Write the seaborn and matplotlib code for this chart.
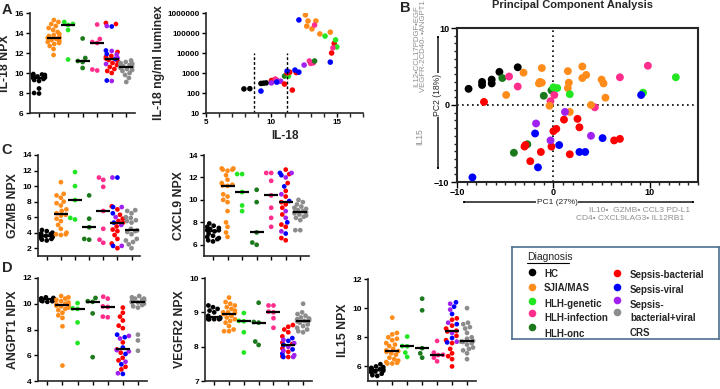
import warnings
import numpy as np
import pandas as pd
import matplotlib
matplotlib.use("Agg")
import matplotlib.pyplot as plt
from matplotlib.ticker import FixedLocator, MultipleLocator, NullLocator, FuncFormatter
import seaborn as sns

warnings.filterwarnings("ignore")

# groups / colours
GROUPS = ["HC", "SJIA/MAS", "HLH-genetic", "HLH-infection", "HLH-onc",
          "Sepsis-bacterial", "Sepsis-viral", "Sepsis-bacterial+viral", "CRS"]
COLORS = ["#000000", "#FF8C1A", "#22E622", "#FF2E8C", "#1C7A1C",
          "#FF0000", "#0000FF", "#A020F0", "#8C8C8C"]
PALETTE = dict(zip(GROUPS, COLORS))
X_CATS = ["HC", "SJIA/MAS", "HLH-genetic", "HLH-onc", "HLH-infection", "Sepsis", "CRS"]
CAT_OF = {g: ("Sepsis" if g.startswith("Sepsis") else g) for g in GROUPS}

# A: IL-18 NPX
il18_npx = {
    "HC": [9.9, 9.85, 9.8, 9.75, 9.7, 9.65, 9.6, 9.55, 9.5, 9.4, 9.3, 9.2, 8.45, 8.0, 7.95],
    "SJIA/MAS": [15.3, 15.1, 14.9, 14.7, 14.5, 14.3, 14.1, 13.9, 13.8, 13.7, 13.6, 13.5, 13.5,
                 13.4, 13.3, 13.2, 13.1, 13.0, 12.9, 12.7, 12.4, 11.8],
    "HLH-genetic": [15.1, 14.9, 14.8, 14.3, 11.35],
    "HLH-onc": [13.45, 11.5, 11.2, 11.1, 10.5],
    "HLH-infection": [14.85, 13.4, 13.1, 13.0, 10.35, 10.25],
    "Sepsis-bacterial": [15.0, 14.9, 12.1, 11.7, 11.6, 11.45, 11.3, 11.2, 11.0, 10.8, 10.6, 10.4, 10.2, 10.0],
    "Sepsis-viral": [14.65, 12.25, 11.9, 11.4, 9.25],
    "Sepsis-bacterial+viral": [14.7, 12.2, 11.85, 11.5, 10.9, 9.2],
    "CRS": [11.25, 11.1, 11.0, 10.95, 10.9, 10.85, 10.8, 10.7, 10.65, 10.6, 10.5, 10.4, 10.3,
            10.2, 10.0, 9.8, 9.5, 9.1],
}

# A: IL-18 NPX vs luminex
lum_group = (["HC"] * 5 + ["Sepsis-viral"] + ["Sepsis-bacterial"] * 3 + ["HLH-infection"]
             + ["Sepsis-bacterial+viral"] * 3 + ["Sepsis-viral", "HLH-onc", "HLH-genetic"]
             + ["Sepsis-bacterial"] * 5 + ["Sepsis-viral"] * 3 + ["Sepsis-bacterial+viral"]
             + ["HLH-infection"] * 3 + ["HLH-onc", "Sepsis-viral"] + ["Sepsis-bacterial"] * 2
             + ["HLH-genetic"] * 2 + ["HLH-infection"] + ["SJIA/MAS"] * 2 + ["HLH-genetic"]
             + ["SJIA/MAS"] * 5 + ["HLH-infection", "Sepsis-viral"])
lum_npx = [7.9, 8.35, 9.2, 9.4, 9.6, 9.2, 10.0, 10.2, 10.4, 10.3,
           10.0, 10.5, 10.7, 10.4, 11.0, 11.3,
           11.0, 11.6, 11.2, 11.4, 11.9, 11.2, 11.8, 12.1, 12.5,
           12.9, 13.0, 13.2, 13.3, 14.5, 14.6, 14.8,
           14.9, 15.0, 14.7, 13.7, 14.5, 14.1,
           12.6, 12.8, 13.4, 12.7, 13.1, 13.3, 12.1]
lum_ngml = [160, 165, 300, 310, 320, 125, 420, 450, 430, 500,
            320, 370, 390, 350, 700, 700,
            280, 140, 1000, 1100, 1050, 1250, 1400, 1100, 2500,
            4000, 3000, 3200, 4000, 3500, 10000, 30000,
            45000, 20000, 18000, 90000, 110000, 70000,
            800000, 400000, 400000, 220000, 160000, 250000, 450000]
cutoffs = [8.7, 11.2]

# B: PCA
pca_group = (["HC"] * 7 + ["HLH-onc"] * 5 + ["HLH-infection"] * 7 + ["SJIA/MAS"] * 18
             + ["HLH-genetic"] * 5 + ["Sepsis-bacterial"] * 14 + ["Sepsis-viral"] * 8
             + ["Sepsis-bacterial+viral"] * 4)
pc1 = [-8.8, -7.4, -7.4, -6.4, -6.4, -5.6, -3.7,
       -5.3, -4.1, -2.7, -0.2, -1.0,
       -4.6, -3.7, 0.1, -0.3, 4.3, 6.9, 9.8,
       -4.9, -3.1, -1.2, -1.4, -1.5, -1.2, -0.4, 1.5, 1.6, 1.5, 3.0, 3.4, 3.0, 5.0, 5.2, 5.4, 3.9, 1.7,
       0.0, 0.4, 1.7, 9.3, 12.7,
       -7.2, -3.0, -2.9, -2.4, -1.3, -0.2, 0.0, 0.3, 1.1, 1.7, 2.5, 2.7, 6.3, 6.9,
       -8.4, -1.9, -1.6, 0.6, 2.7, 3.3, 5.1, 9.1,
       -1.8, -0.3, 1.2, 3.9]
pc2 = [2.1, 3.0, 2.6, 3.3, 2.8, 4.3, 4.9,
       3.5, -6.2, -5.1, 1.9, 1.2,
       3.7, 2.4, 1.3, 0.5, -0.3, 3.6, 5.1,
       1.3, 4.2, 4.8, 3.0, 2.8, 2.9, -0.1, 4.4, 2.9, 2.2, 5.0, 3.9, 3.5, 3.3, 2.8, 0.95, 0.0, -0.9,
       2.3, 2.2, 1.4, 1.6, 3.6,
       0.4, -5.4, -5.2, -7.3, -6.1, -5.4, -3.4, -3.1, -1.9, -6.4, -1.8, -2.9, -4.6, -4.4,
       -9.4, -3.7, -8.1, -5.2, -6.1, -6.1, -4.3, 1.3,
       -2.4, -4.6, -0.9, -4.0]

# C: GZMB, CXCL9
gzmb_npx = {
    "HC": [4.35, 4.2, 4.0, 3.9, 3.8, 3.7, 3.65, 3.6, 3.55, 3.5, 3.4, 3.3, 3.2, 3.1, 3.0],
    "SJIA/MAS": [10.5, 9.0, 8.8, 8.5, 8.0, 7.8, 7.5, 7.0, 6.8, 6.5, 6.3, 6.2, 5.8, 5.5, 5.0,
                 4.5, 4.0, 3.8, 3.8, 3.7],
    "HLH-genetic": [11.8, 10.0, 8.2, 5.9, 5.7],
    "HLH-onc": [8.8, 5.8, 4.7, 3.2, 3.1],
    "HLH-infection": [11.1, 10.8, 9.9, 6.8, 4.5, 3.1, 2.7],
    "Sepsis-bacterial": [7.4, 7.0, 6.3, 5.8, 5.5, 5.3, 4.8, 4.4, 4.2, 3.7, 3.2, 2.6, 2.0],
    "Sepsis-viral": [11.1, 7.3, 6.5, 5.3, 2.3],
    "Sepsis-bacterial+viral": [11.1, 7.3, 6.0, 5.0, 2.3],
    "CRS": [6.9, 6.8, 6.5, 6.0, 5.9, 5.6, 5.5, 5.3, 4.5, 4.3, 4.2, 4.1, 3.8, 3.2, 3.0, 2.8, 2.5, 2.0],
}
cxcl9_npx = {
    "HC": [7.9, 7.7, 7.6, 7.5, 7.4, 7.3, 7.3, 7.2, 7.0, 6.8, 6.7, 6.6, 6.5, 6.4, 6.3],
    "SJIA/MAS": [12.8, 12.8, 12.7, 12.7, 12.6, 12.2, 11.8, 11.5, 11.35, 11.3, 11.25, 10.5, 10.3,
                 10.0, 9.8, 9.0, 8.0, 7.6, 7.1, 6.7],
    "HLH-genetic": [12.3, 12.3, 10.7, 9.5, 9.0],
    "HLH-onc": [10.9, 9.8, 7.1, 6.2, 6.0],
    "HLH-infection": [12.4, 12.4, 11.7, 10.4, 9.3, 8.4, 7.6],
    "Sepsis-bacterial": [12.7, 12.3, 11.5, 10.8, 10.3, 9.8, 9.6, 9.3, 8.7, 7.8, 7.6, 6.6, 6.4],
    "Sepsis-viral": [12.4, 12.2, 11.2, 9.9, 8.0, 7.0],
    "Sepsis-bacterial+viral": [12.4, 12.0, 10.5, 9.0, 8.4, 7.2],
    "CRS": [10.0, 9.8, 9.6, 9.4, 9.3, 9.2, 9.1, 9.0, 8.9, 8.9, 8.8, 8.7, 8.6, 8.5, 8.4, 8.2, 7.3, 7.3],
}

# D: ANGPT1, VEGFR2, IL15
angpt1_npx = {
    "HC": [10.5, 10.45, 10.4, 10.4, 10.4, 10.35, 10.35, 10.35, 10.3, 10.3, 10.3, 10.25, 10.2, 10.2, 10.15],
    "SJIA/MAS": [10.6, 10.5, 10.4, 10.3, 10.2, 10.1, 10.0, 9.95, 9.9, 9.9, 9.85, 9.8, 9.7, 9.6,
                 9.5, 9.3, 9.1, 8.9, 8.25, 5.2],
    "HLH-genetic": [10.05, 9.65, 9.6, 8.55, 6.95],
    "HLH-onc": [10.45, 10.2, 10.15, 9.25, 5.85],
    "HLH-infection": [10.55, 10.4, 9.8, 9.75, 9.0, 8.95],
    "Sepsis-bacterial": [9.7, 9.3, 9.0, 8.7, 8.3, 8.1, 7.0, 6.45, 6.2, 5.8, 5.6, 5.1, 4.9],
    "Sepsis-viral": [7.6, 7.4, 6.6, 6.1, 5.3, 4.55],
    "Sepsis-bacterial+viral": [7.5, 7.3, 6.4, 6.3, 5.5, 4.6],
    "CRS": [10.6, 10.5, 10.4, 10.4, 10.3, 10.3, 10.2, 10.2, 10.15, 10.1, 10.1, 10.0, 9.9, 9.8,
            9.7, 7.6, 7.15, 6.35],
}
vegfr2_npx = {
    "HC": [9.2, 9.15, 9.1, 9.05, 9.0, 8.9, 8.85, 8.85, 8.82, 8.8, 8.8, 8.8, 8.8],
    "SJIA/MAS": [9.43, 9.3, 9.25, 9.2, 9.15, 9.1, 9.05, 9.0, 9.0, 8.98, 8.95, 8.9, 8.85, 8.8,
                 8.75, 8.7, 8.6, 8.5, 8.45, 8.45],
    "HLH-genetic": [8.98, 8.75, 8.74, 8.42, 7.83],
    "HLH-onc": [9.28, 8.72, 8.7, 8.15, 8.05],
    "HLH-infection": [9.2, 9.2, 9.02, 9.0, 8.83, 8.55],
    "Sepsis-bacterial": [8.63, 8.58, 8.5, 8.42, 8.3, 8.12, 8.08, 7.95, 7.85, 7.72, 7.7],
    "Sepsis-viral": [8.25, 8.17, 8.05, 7.92, 7.8, 7.7],
    "Sepsis-bacterial+viral": [8.2, 8.1, 8.0, 7.88, 7.75, 7.7],
    "CRS": [9.25, 9.0, 8.95, 8.9, 8.85, 8.82, 8.8, 8.78, 8.76, 8.75, 8.74, 8.7, 8.65, 8.6,
            8.55, 8.5, 8.45, 8.42],
}
il15_npx = {
    "HC": [6.15, 6.0, 5.95, 5.9, 5.85, 5.8, 5.8, 5.75, 5.7, 5.65, 5.6, 5.5, 5.4, 5.35],
    "SJIA/MAS": [9.35, 8.3, 8.2, 8.0, 7.9, 7.8, 7.6, 7.5, 7.4, 7.2, 7.1, 7.05, 7.0, 6.9, 6.8,
                 6.6, 6.5, 6.4, 6.3, 6.25, 6.2, 6.2],
    "HLH-genetic": [8.05, 7.4, 7.38, 6.95, 6.65],
    "HLH-onc": [10.65, 9.85, 7.25, 6.9, 6.6],
    "HLH-infection": [7.75, 6.95, 6.8, 6.78, 6.6, 6.35],
    "Sepsis-bacterial": [9.3, 9.2, 8.8, 8.6, 8.45, 8.4, 8.1, 7.8, 7.6, 7.2, 6.9, 6.7, 6.5, 6.0],
    "Sepsis-viral": [10.4, 10.1, 9.6, 8.9, 7.95, 7.65],
    "Sepsis-bacterial+viral": [10.3, 9.9, 9.0, 8.3, 7.7],
    "CRS": [10.0, 9.0, 8.9, 8.7, 8.6, 8.3, 8.0, 7.9, 7.75, 7.7, 7.68, 7.6, 7.5, 7.3, 7.2, 7.1, 6.9, 6.5],
}

# ---------------------------------------------------------------------------
sns.set_theme(style="ticks")
plt.rcParams["font.family"] = ["Liberation Sans", "DejaVu Sans"]
plt.rcParams["font.weight"] = "bold"
plt.rcParams["axes.labelweight"] = "bold"
plt.rcParams["axes.linewidth"] = 1.2

W, H = 720, 389
fig = plt.figure(figsize=(7.2, 3.89), dpi=100)


def px_rect(l, t, r, b):
    return [l / W, 1 - b / H, (r - l) / W, (b - t) / H]


def fxy(x, y):
    return (x / W, 1 - y / H)


def style_ticks(ax, size=6):
    ax.tick_params(axis="both", direction="out", length=3, width=1, labelsize=size,
                   pad=1.5, colors="black")
    for t in ax.get_xticklabels() + ax.get_yticklabels():
        t.set_fontweight("bold")


def strip_panel(rect, values, ylim, yticks, ylabel):
    rows = [(g, CAT_OF[g], v) for g in GROUPS for v in values[g]]
    df = pd.DataFrame(rows, columns=["group", "cat", "value"])
    ax = fig.add_axes(px_rect(*rect))
    sns.swarmplot(data=df, x="cat", y="value", hue="group", order=X_CATS, hue_order=GROUPS,
                  palette=PALETTE, size=3.4, linewidth=0, legend=False, ax=ax)
    sns.pointplot(data=df, x="cat", y="value", order=X_CATS, estimator="median",
                  errorbar=None, markers="_", linestyles="none", color="black",
                  markersize=10, markeredgewidth=1.6, zorder=5, ax=ax)
    ax.set_xlim(-0.62, 6.6)
    ax.set_ylim(*ylim)
    ax.set_yticks(yticks)
    ax.set_xticks(range(len(X_CATS)))
    ax.set_xticklabels([])
    ax.set_xlabel("")
    ax.set_ylabel(ylabel, fontsize=8.8, labelpad=2)
    sns.despine(ax=ax)
    style_ticks(ax)
    return ax


strip_panel((30, 13, 135, 113), il18_npx, (6, 16), [6, 8, 10, 12, 14, 16], "IL-18 NPX")
strip_panel((38, 155, 140, 256), gzmb_npx, (1, 14), [2, 4, 6, 8, 10, 12, 14], "GZMB NPX")
strip_panel((204, 155, 309, 256), cxcl9_npx, (5, 14), [6, 8, 10, 12, 14], "CXCL9 NPX")
strip_panel((38, 278, 147, 381), angpt1_npx, (4, 12), [4, 6, 8, 10, 12], "ANGPT1 NPX")
strip_panel((205, 278, 312, 381), vegfr2_npx, (7, 10), [7, 8, 9, 10], "VEGFR2 NPX")
strip_panel((368, 279, 476, 381), il15_npx, (5, 12), [6, 8, 10, 12], "IL15 NPX")

# IL-18 NPX vs luminex
ax2 = fig.add_axes(px_rect(206, 13, 363, 113))
lum_df = pd.DataFrame({"group": lum_group, "npx": lum_npx, "ngml": lum_ngml})
sns.scatterplot(data=lum_df, x="npx", y="ngml", hue="group", palette=PALETTE,
                s=16, linewidth=0, legend=False, ax=ax2)
ax2.set_yscale("log")
ax2.set_xlim(5, 17)
ax2.set_ylim(10, 1e6)
ax2.vlines(cutoffs, 10, 1e4, colors="black", linestyles=(0, (2, 1.5)), linewidth=1)
ax2.yaxis.set_major_locator(FixedLocator([10, 100, 1000, 10000, 100000, 1000000]))
ax2.yaxis.set_minor_locator(NullLocator())
ax2.yaxis.set_major_formatter(FuncFormatter(lambda v, p: f"{int(round(v))}"))
ax2.xaxis.set_major_locator(FixedLocator([5, 10, 15]))
ax2.xaxis.set_minor_locator(MultipleLocator(1))
ax2.tick_params(axis="x", which="minor", direction="out", length=3, width=1)
ax2.set_xlabel("IL-18", fontsize=8.5, labelpad=3)
ax2.set_ylabel("IL-18 ng/ml luminex", fontsize=8.8, labelpad=2)
sns.despine(ax=ax2)
style_ticks(ax2, 5.8)

# PCA
ax3 = fig.add_axes(px_rect(457, 28, 698, 182))
pca_df = pd.DataFrame({"group": pca_group, "pc1": pc1, "pc2": pc2})
sns.scatterplot(data=pca_df, x="pc1", y="pc2", hue="group", palette=PALETTE,
                s=32, linewidth=0, legend=False, ax=ax3, zorder=3)
ax3.set_xlim(-10, 15)
ax3.set_ylim(-10, 10)
ax3.axhline(0, color="black", linestyle=(0, (1, 2)), linewidth=1.2, zorder=1)
ax3.axvline(0, color="black", linestyle=(0, (1, 2)), linewidth=1.2, zorder=1)
ax3.set_xticks([-10, 0, 10])
ax3.set_yticks([-10, 0, 10])
ax3.xaxis.set_minor_locator(MultipleLocator(1))
ax3.yaxis.set_minor_locator(MultipleLocator(1))
ax3.set_xlabel("")
ax3.set_ylabel("")
for s in ax3.spines.values():
    s.set_linewidth(1.5)
style_ticks(ax3, 6.5)
ax3.tick_params(which="minor", direction="out", length=2.5, width=1)
ax3.tick_params(which="major", length=4)
ax3.tick_params(axis="x", pad=0.5)

fig.text(*fxy(573, 5), "Principal Component Analysis", fontsize=8, ha="center", va="center")

arrow_kw = dict(arrowstyle="-|>,head_length=0.5,head_width=0.2", color="black", lw=1)
fig.add_artist(matplotlib.patches.FancyArrowPatch(fxy(438, 100), fxy(438, 32),
               transform=fig.transFigure, **arrow_kw))
fig.add_artist(matplotlib.patches.FancyArrowPatch(fxy(438, 100), fxy(438, 173),
               transform=fig.transFigure, **arrow_kw))
fig.add_artist(matplotlib.patches.FancyArrowPatch(fxy(560, 202), fxy(459, 202),
               transform=fig.transFigure, **arrow_kw))
fig.add_artist(matplotlib.patches.FancyArrowPatch(fxy(560, 202), fxy(698, 202),
               transform=fig.transFigure, **arrow_kw))
fig.text(*fxy(438, 95), "PC2 (18%)", rotation=90, fontsize=6.2, fontweight="normal",
         ha="center", va="center", bbox=dict(facecolor="white", edgecolor="none", pad=0.5))
fig.text(*fxy(557, 202.5), "PC1 (27%)", fontsize=6, fontweight="normal",
         ha="center", va="center", bbox=dict(facecolor="white", edgecolor="none", pad=0.2))

gray = "#8F8F8F"
fig.text(*fxy(420, 46), "IL12•CCL17PDGF•EGF\nVEGFR-2CD40- •ANGPT1", rotation=90, fontsize=5.6,
         fontweight="normal", color=gray, ha="center", va="center", linespacing=0.95)
fig.text(*fxy(420, 137), "IL15", rotation=90, fontsize=6.2, fontweight="normal", color=gray,
         ha="center", va="center")
fig.text(*fxy(690, 211), "IL10•  GZMB• CCL3 PD-L1", fontsize=6, fontweight="normal",
         color=gray, ha="right", va="center")
fig.text(*fxy(684, 219), "CD4• CXCL9LAG3• IL12RB1", fontsize=6, fontweight="normal",
         color=gray, ha="right", va="center")

# panel letters
for lx, ly, letter in [(7, 10, "A"), (405, 8, "B"), (7, 150, "C"), (7, 268, "D")]:
    fig.text(*fxy(lx, ly), letter, fontsize=10.5, ha="center", va="center")

# legend box
axl = fig.add_axes(px_rect(512, 247, 719, 339))
axl.set_xlim(0, 207)
axl.set_ylim(92, 0)
axl.set_xticks([])
axl.set_yticks([])
for s in axl.spines.values():
    s.set_edgecolor("#4E6E8E")
    s.set_linewidth(1.2)
axl.text(15, 10, "Diagnosis", fontsize=7.5, fontweight="normal", va="center")
axl.plot([15, 57], [16, 16], color="black", lw=0.8)
leg_marker = [(20, 25), (20, 40), (20, 54), (20, 66), (20, 80),
              (105, 26), (105, 40), (105, 65), (105, 53)]
leg_text = [(32, 27, "HC"), (32, 41, "SJIA/MAS"), (32, 57, "HLH-genetic"),
            (32, 71, "HLH-infection"), (32, 87, "HLH-onc"),
            (118, 28, "Sepsis-bacterial"), (118, 43, "Sepsis-viral"),
            (118, 58, "Sepsis-"), (118, 71, "bacterial+viral"), (118, 86, "CRS")]
order_for_markers = ["HC", "SJIA/MAS", "HLH-genetic", "HLH-infection", "HLH-onc",
                     "Sepsis-bacterial", "Sepsis-viral", "CRS", "Sepsis-bacterial+viral"]
for (mx, my), g in zip(leg_marker, order_for_markers):
    axl.scatter([mx], [my], s=30, color=PALETTE[g], linewidth=0)
for tx, ty, t in leg_text:
    axl.text(tx, ty, t, fontsize=7, va="center")

fig.savefig("out.png", dpi=100)
